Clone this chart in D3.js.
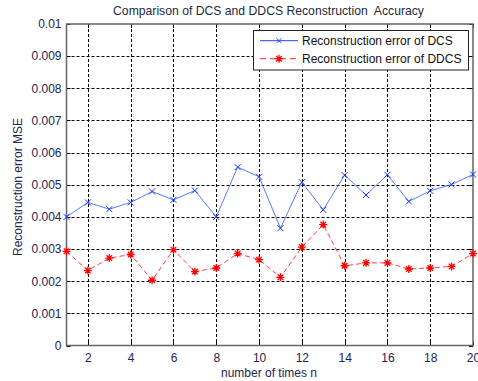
<!DOCTYPE html>
<html><head><meta charset="utf-8">
<script src="https://cdn.jsdelivr.net/npm/d3@7"></script>
<style>body{margin:0;background:#fff}svg{display:block}text{font-family:"Liberation Sans",Arial,sans-serif}</style>
</head><body>
<svg id="c" width="478" height="381"></svg>
<script>
const nValues = [1,2,3,4,5,6,7,8,9,10,11,12,13,14,15,16,17,18,19,20];
const dcsError = [0.00400,0.00445,0.00424,0.00445,0.00479,0.00453,0.00482,0.00400,0.00555,0.00525,0.00365,0.00508,0.00422,0.00530,0.00468,0.00531,0.00448,0.00481,0.00501,0.00532];
const ddcsError = [0.00293,0.00233,0.00272,0.00283,0.00203,0.00298,0.00230,0.00241,0.00286,0.00267,0.00212,0.00306,0.00376,0.00248,0.00257,0.00257,0.00238,0.00241,0.00246,0.00286];
const xTicks = [2,4,6,8,10,12,14,16,18,20];
const yTicks = [0,0.001,0.002,0.003,0.004,0.005,0.006,0.007,0.008,0.009,0.01];
const yTickLabels = ["0","0.001","0.002","0.003","0.004","0.005","0.006","0.007","0.008","0.009","0.01"];
const seriesNames = ["Reconstruction error of DCS","Reconstruction error of DDCS"];
const titleText = "Comparison of DCS and DDCS Reconstruction\u00a0 Accuracy";
const xLabel = "number of times n";
const yLabel = "Reconstruction error MSE";

const svg = d3.select("#c");
const L = 66.5, R = 473, T = 24, B = 345.5;
const x = d3.scaleLinear().domain([1,20]).range([L,R]);
const y = d3.scaleLinear().domain([0,0.01]).range([B,T]);
const txtCol = "#23234f";

// grid
const g = svg.append("g");
g.selectAll(".gx").data(xTicks.filter(t=>t<20)).join("line")
  .attr("x1",d=>Math.round(x(d))+0.5).attr("x2",d=>Math.round(x(d))+0.5)
  .attr("y1",T).attr("y2",B).attr("stroke","#000").attr("stroke-width",1).attr("stroke-dasharray","3,2");
g.selectAll(".gy").data(yTicks.filter(t=>t>0&&t<0.01)).join("line")
  .attr("y1",d=>Math.round(y(d))+0.5).attr("y2",d=>Math.round(y(d))+0.5)
  .attr("x1",L).attr("x2",R).attr("stroke","#000").attr("stroke-width",1).attr("stroke-dasharray","3,2");

// axes via d3
const xAxis = d3.axisBottom(x).tickValues(xTicks).tickSize(0).tickPadding(8).tickFormat(d3.format("d"));
const ax = svg.append("g").attr("transform",`translate(0,${B})`).call(xAxis);
ax.select(".domain").remove();
ax.selectAll("text").attr("font-size",12).attr("fill",txtCol).attr("font-family","Liberation Sans, Arial, sans-serif");
const yAxis = d3.axisLeft(y).tickValues(yTicks).tickSize(0).tickPadding(5).tickFormat((d,i)=>yTickLabels[i]);
const ay = svg.append("g").attr("transform",`translate(${L},0)`).call(yAxis);
ay.select(".domain").remove();
ay.selectAll("text").attr("font-size",12).attr("fill",txtCol).attr("font-family","Liberation Sans, Arial, sans-serif");

// inner ticks
const tk = svg.append("g").attr("stroke","#000").attr("stroke-width",1);
xTicks.forEach(t=>{const px=Math.round(x(t))+0.5;
  tk.append("line").attr("x1",px).attr("x2",px).attr("y1",B).attr("y2",B-4);
  tk.append("line").attr("x1",px).attr("x2",px).attr("y1",T).attr("y2",T+4);});
yTicks.forEach(t=>{const py=Math.round(y(t))+0.5;
  tk.append("line").attr("y1",py).attr("y2",py).attr("x1",L).attr("x2",L+4);
  tk.append("line").attr("y1",py).attr("y2",py).attr("x1",R).attr("x2",R-4);});

// frame
svg.append("rect").attr("x",L).attr("y",T).attr("width",R-L).attr("height",B-T)
  .attr("fill","none").attr("stroke","#666").attr("stroke-width",1.5);

const line = d3.line().x((d,i)=>x(nValues[i])).y(d=>y(d));
// DCS
svg.append("path").datum(dcsError).attr("d",line).attr("fill","none").attr("stroke","#2d5bff").attr("stroke-width",1).attr("stroke-opacity",0.8);
const xMark = (sel,s)=>sel.attr("d",`M${-s},${-s}L${s},${s}M${-s},${s}L${s},${-s}`);
svg.append("g").selectAll("path").data(dcsError).join("path")
  .attr("transform",(d,i)=>`translate(${x(nValues[i])},${y(d)})`)
  .call(xMark,3).attr("stroke","#1030ff").attr("stroke-width",1).attr("fill","none");
// DDCS
svg.append("path").datum(ddcsError).attr("d",line).attr("fill","none").attr("stroke","#ff2020").attr("stroke-width",1).attr("stroke-opacity",0.85).attr("stroke-dasharray","5,3");
const star = (sel,s)=>sel.attr("d",`M${-s},0L${s},0M0,${-s}L0,${s}M${-s*0.7},${-s*0.7}L${s*0.7},${s*0.7}M${-s*0.7},${s*0.7}L${s*0.7},${-s*0.7}`);
svg.append("g").selectAll("path").data(ddcsError).join("path")
  .attr("transform",(d,i)=>`translate(${x(nValues[i])},${y(d)})`)
  .call(star,4).attr("stroke","#ff0000").attr("stroke-width",1.3).attr("fill","none");

// legend
const lg = svg.append("g");
lg.append("rect").attr("x",253.5).attr("y",30.5).attr("width",215).attr("height",39.5).attr("fill","#fff").attr("stroke","#222").attr("stroke-width",1);
const rows = [40.7, 58.7];
lg.append("line").attr("x1",260).attr("x2",298).attr("y1",rows[0]).attr("y2",rows[0]).attr("stroke","#2040ff").attr("stroke-width",1);
lg.append("path").attr("transform",`translate(279,${rows[0]})`).call(xMark,2.5).attr("stroke","#3050ff").attr("fill","none");
lg.append("line").attr("x1",260).attr("x2",298).attr("y1",rows[1]).attr("y2",rows[1]).attr("stroke","#ff2020").attr("stroke-width",1).attr("stroke-dasharray","6,4");
lg.append("path").attr("transform",`translate(279,${rows[1]})`).call(star,4).attr("stroke","#ff0000").attr("stroke-width",1.3).attr("fill","none");
seriesNames.forEach((s,i)=>lg.append("text").attr("x",302).attr("y",rows[i]+4.5).attr("font-size",12).attr("fill","#111").text(s));

// title & labels
svg.append("text").attr("x",268.5).attr("y",15).attr("text-anchor","middle").attr("font-size",12.2).attr("fill","#1c2a40").text(titleText);
svg.append("text").attr("x",269).attr("y",377).attr("text-anchor","middle").attr("font-size",12).attr("fill",txtCol).text(xLabel);
svg.append("text").attr("transform","translate(22,187) rotate(-90)").attr("text-anchor","middle").attr("font-size",12).attr("fill",txtCol).text(yLabel);
</script>
</body></html>
